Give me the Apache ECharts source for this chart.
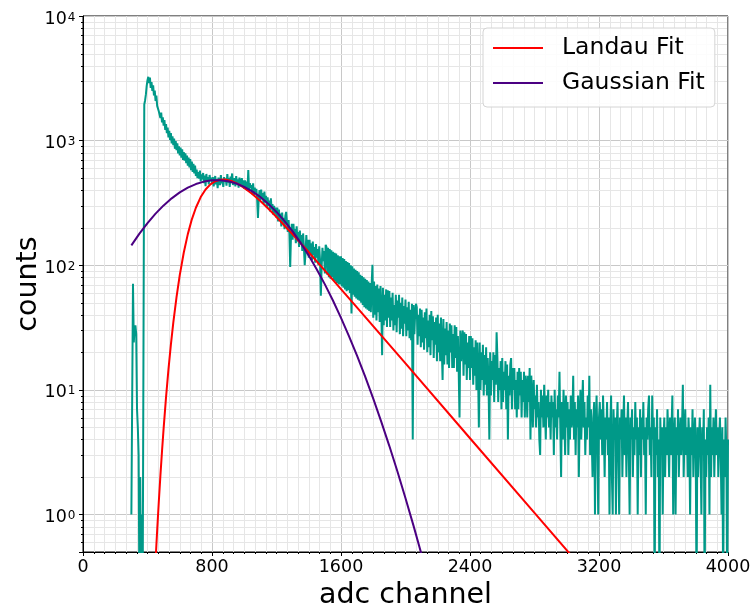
<!DOCTYPE html>
<html>
<head>
<meta charset="utf-8">
<script src="https://cdn.jsdelivr.net/npm/echarts@6/dist/echarts.min.js"></script>
<style>
  html, body { margin: 0; padding: 0; background: #fff; }
  #chart { width: 753px; height: 612px; }
</style>
</head>
<body>
<div id="chart"></div>
<script>
// ADC spectrum: counts per channel, sampled every 5 channels from channel 300
const channelStart = 300;
const channelStep = 5;
const counts = [
  1, 1, 71, 24, 31, 33, 28, 7, 5, 3, 0, 2, 0, 1, 0, 0, 1950, 2100, 2350, 2750,
  3050, 3250, 2900, 3200, 2650, 2950, 2500, 2780, 2300, 2520, 2080, 2300, 1900, 1960, 1720, 1780, 1520, 1680, 1400, 1540,
  1320, 1460, 1220, 1360, 1150, 1270, 1060, 1200, 1010, 1150, 950, 1080, 920, 1040, 860, 990, 840, 950, 790, 900,
  760, 880, 730, 850, 700, 810, 690, 790, 660, 760, 630, 730, 610, 710, 580, 680, 560, 650, 545, 630,
  520, 585, 500, 560, 495, 575, 470, 535, 490, 550, 455, 525, 430, 540, 470, 510, 445, 530, 480, 505,
  450, 510, 430, 470, 520, 445, 490, 415, 505, 470, 440, 530, 455, 480, 425, 510, 470, 495, 435, 540,
  460, 500, 425, 515, 480, 545, 440, 470, 500, 430, 520, 455, 490, 420, 505, 465, 440, 500, 425, 480,
  410, 480, 420, 470, 395, 580, 390, 455, 420, 440, 370, 455, 360, 420, 385, 410, 340, 240, 350, 400,
  335, 405, 340, 380, 310, 390, 320, 360, 290, 350, 300, 330, 270, 345, 280, 310, 255, 300, 260, 290,
  240, 290, 225, 280, 230, 260, 205, 265, 215, 240, 195, 250, 268, 220, 185, 230, 180, 97, 175, 215,
  160, 215, 170, 195, 150, 205, 155, 185, 140, 190, 150, 175, 130, 180, 140, 100, 125, 175, 130, 160,
  115, 160, 125, 150, 110, 155, 120, 140, 105, 148, 115, 135, 100, 142, 110, 57, 98, 138, 108, 130,
  86, 146, 140, 84, 138, 80, 135, 78, 132, 80, 128, 76, 126, 74, 124, 72, 120, 70, 118, 70,
  118, 68, 114, 66, 112, 64, 108, 62, 106, 63, 104, 60, 100, 41, 98, 58, 94, 56, 92, 54,
  90, 53, 88, 52, 84, 50, 82, 48, 80, 46, 78, 45, 76, 44, 74, 43, 72, 42, 70, 101,
  38, 74, 40, 68, 36, 70, 42, 65, 35, 68, 44, 19, 66, 33, 58, 36, 64, 32, 63, 38,
  62, 32, 55, 36, 60, 30, 48, 33, 58, 29, 52, 38, 58, 28, 50, 31, 55, 27, 47, 34,
  53, 27, 46, 30, 51, 26, 44, 25, 49, 4, 48, 28, 41, 49, 46, 23, 40, 27, 45, 22,
  44, 24, 38, 21, 42, 26, 45, 20, 36, 22, 40, 19, 43, 25, 39, 18, 35, 23, 38, 17,
  40, 20, 34, 17, 38, 22, 12, 37, 16, 31, 19, 35, 16, 30, 15, 34, 20, 33, 15, 28,
  15, 33, 18, 32, 14, 27, 14, 6, 30, 17, 25, 30, 13, 29, 16, 28, 12, 24, 15, 27,
  12, 27, 15, 26, 11, 22, 13, 25, 10, 24, 14, 5, 24, 10, 20, 12, 23, 9, 19, 11,
  22, 9, 18, 11, 4, 20, 9, 17, 12, 20, 8, 19, 11, 29, 18, 8, 15, 10, 17, 7,
  18, 8, 14, 10, 17, 7, 16, 4, 13, 9, 16, 18, 7, 15, 10, 15, 7, 12, 6, 14,
  7, 15, 9, 14, 6, 12, 8, 14, 6, 13, 11, 6, 13, 8, 15, 4, 13, 9, 5, 12,
  7, 9, 5, 11, 6, 8, 4, 3, 10, 6, 9, 5, 11, 7, 4, 9, 6, 10, 5, 8,
  4, 9, 6, 8, 3, 10, 5, 7, 4, 9, 6, 14, 5, 2, 8, 4, 10, 6, 3, 9,
  5, 8, 3, 7, 4, 9, 5, 6, 13, 4, 8, 3, 7, 5, 9, 2, 6, 10, 4, 7,
  12, 5, 8, 3, 6, 4, 9, 5, 13, 3, 7, 4, 2, 6, 8, 1, 5, 9, 4, 1,
  6, 8, 4, 7, 3, 9, 5, 2, 6, 4, 8, 3, 6, 1, 5, 9, 2, 1, 7, 4,
  6, 1, 5, 8, 3, 1, 6, 4, 7, 2, 5, 9, 3, 6, 2, 5, 8, 3, 1, 6,
  4, 7, 2, 5, 3, 8, 4, 6, 1, 5, 3, 7, 2, 6, 4, 8, 3, 5, 1, 6,
  4, 7, 9, 3, 5, 2, 9, 4, 6, 0, 5, 3, 7, 2, 4, 0, 6, 3, 5, 1,
  4, 6, 2, 5, 3, 7, 4, 2, 6, 3, 5, 9, 1, 4, 6, 1, 5, 3, 7, 2,
  4, 6, 3, 5, 11, 2, 4, 7, 3, 5, 2, 6, 4, 1, 5, 3, 7, 2, 4, 6,
  3, 0, 5, 2, 4, 6, 3, 1, 5, 3, 7, 0, 4, 2, 5, 3, 6, 1, 11, 2,
  5, 3, 6, 2, 4, 7, 3, 5, 2, 4, 6, 3, 1, 5, 0, 4, 2, 6, 3, 0,
  4
];

// Landau fit curve
const landauChannels = [445, 450, 455, 460, 470, 480, 490, 500, 515, 530, 545, 560, 580, 600, 625, 650, 675, 700, 730,
  760, 790, 820, 850, 880, 920, 960, 1000, 1050, 1100, 1150, 1200, 1300, 1400, 1500, 1700, 2000, 2400, 2800, 3100];
const landauCounts = [0.314, 0.423, 0.566, 0.745, 1.26, 2.05, 3.22, 4.91, 8.75, 14.6, 23.1, 34.6, 55.5, 83.2, 126.5, 177.7, 233.6, 289.4, 352.3,
  405.4, 445.6, 472.2, 485.3, 486.9, 474.2, 449.8, 417.8, 373.1, 327.4, 283.8, 243.9, 177.3, 127.2, 90.6, 45.7, 16.3, 4.09, 1.03, 0.366];

// Gaussian fit curve
const gaussChannels = [300, 350, 400, 450, 500, 550, 600, 650, 700, 750, 800, 850, 900, 950, 1000, 1050, 1100, 1150, 1200,
  1250, 1300, 1350, 1400, 1450, 1500, 1550, 1600, 1650, 1700, 1750, 1800, 1850, 1900, 1950, 2000, 2050, 2100];
const gaussCounts = [144.3, 179.3, 218, 259.3, 302, 344.3, 384, 419.4, 448.3, 469, 480.1, 481.2, 472, 453.2, 425.7, 391.6, 352.5, 310.6, 267.8,
  226.1, 186.8, 151, 119.5, 92.6, 70.2, 52.1, 37.8, 26.9, 18.7, 12.75, 8.5, 5.54, 3.54, 2.21, 1.35, 0.81, 0.475];

// Log-axis decades that carry labels, and the minor grid values between them
const yDecades = [1, 10, 100, 1000, 10000];
const yMinor = [0.6, 0.7, 0.8, 0.9, 2, 3, 4, 5, 6, 7, 8, 9, 20, 30, 40, 50, 60, 70, 80, 90,
  200, 300, 400, 500, 600, 700, 800, 900, 2000, 3000, 4000, 5000, 6000, 7000, 8000, 9000];

// Empty bins cannot sit on a log axis; park them below the visible range
const EMPTY_BIN = 0.2;

const spectrum = counts.map((c, i) => [channelStart + i * channelStep, c > 0 ? c : EMPTY_BIN]);
const landau = landauChannels.map((x, i) => [x, landauCounts[i]]);
const gauss = gaussChannels.map((x, i) => [x, gaussCounts[i]]);

const font = 'DejaVu Sans';
const chart = echarts.init(document.getElementById('chart'), null, { renderer: 'canvas' });

chart.setOption({
  animation: false,
  backgroundColor: '#ffffff',
  textStyle: { fontFamily: font, color: '#000' },
  grid: {
    left: 83, right: 25, top: 16, bottom: 60,
    containLabel: false,
    outerBoundsMode: 'none',
    show: true, borderColor: '#000', borderWidth: 1, backgroundColor: 'transparent'
  },
  legend: {
    data: ['Landau Fit', 'Gaussian Fit'],
    orient: 'vertical',
    left: 483, top: 28,
    padding: [5, 10, 9, 10],
    icon: 'rect',
    itemWidth: 50, itemHeight: 2, itemGap: 5,
    backgroundColor: 'rgba(255,255,255,0.85)',
    borderColor: '#d4d4d4', borderWidth: 1, borderRadius: 4,
    textStyle: { fontFamily: font, fontSize: 23.5, color: '#000', lineHeight: 30, padding: [0, 0, 0, 14] }
  },
  xAxis: {
    type: 'value',
    min: 0, max: 4000, interval: 800,
    name: 'adc channel', nameLocation: 'middle', nameGap: 27,
    nameTextStyle: { fontFamily: font, fontSize: 28.5, color: '#000' },
    axisLine: { show: true, onZero: false, lineStyle: { color: '#000', width: 1 } },
    axisTick: { show: true, inside: false, length: 4, lineStyle: { color: '#000' } },
    minorTick: { show: true, splitNumber: 12, length: 2, lineStyle: { color: '#000' } },
    axisLabel: { fontFamily: font, fontSize: 17.5, color: '#000', margin: 6, formatter: v => String(v) },
    splitLine: { show: true, lineStyle: { color: '#c8c8c8', width: 1 } },
    minorSplitLine: { show: true, lineStyle: { color: '#e6e6e6', width: 1 } }
  },
  yAxis: {
    type: 'log', logBase: 10,
    min: 0.5, max: 10000,
    name: 'counts', nameLocation: 'middle', nameGap: 40,
    nameMoveOverlap: false,
    nameTextStyle: { fontFamily: font, fontSize: 28.5, color: '#000' },
    axisLine: { show: true, lineStyle: { color: '#000', width: 1 } },
    axisTick: { show: true, inside: false, length: 4, lineStyle: { color: '#000' } },
    axisLabel: {
      margin: 7.5,
      formatter: function (v) {
        if (!yDecades.some(d => Math.abs(d - v) / d < 1e-6)) return '';
        const k = Math.round(Math.log10(v));
        return '{b|10}{s|' + k + '}';
      },
      rich: {
        b: { fontFamily: font, fontSize: 17.5, color: '#000', lineHeight: 20, padding: [6, 0, 0, 0] },
        s: { fontFamily: font, fontSize: 12, color: '#000', lineHeight: 12, padding: [3, 0, 0, 1] }
      }
    },
    splitLine: { show: true, lineStyle: { color: '#c8c8c8', width: 1 } }
  },
  series: [
    {
      // minor grid lines and ticks at 2..9 x 10^k on the log axis
      type: 'custom',
      silent: true,
      z: 1,
      clip: false,
      data: yMinor.map(v => [0, v]),
      encode: { x: 0, y: 1 },
      renderItem: function (params, api) {
        const cs = params.coordSys;
        const y = Math.round(api.coord([0, api.value(1)])[1]) + 0.5;
        return {
          type: 'group',
          children: [
            { type: 'line', shape: { x1: cs.x + 1, y1: y, x2: cs.x + cs.width - 1, y2: y },
              style: { stroke: '#e6e6e6', lineWidth: 1 } },
            { type: 'line', shape: { x1: cs.x - 2, y1: y, x2: cs.x, y2: y },
              style: { stroke: '#000', lineWidth: 1 } }
          ]
        };
      }
    },
    {
      name: 'spectrum',
      type: 'line',
      data: spectrum,
      symbol: 'none',
      clip: true,
      lineStyle: { color: '#009988', width: 2 },
      itemStyle: { color: '#009988' },
      z: 2
    },
    {
      name: 'Landau Fit',
      type: 'line',
      data: landau,
      symbol: 'none',
      clip: true,
      lineStyle: { color: '#ff0000', width: 2 },
      itemStyle: { color: '#ff0000' },
      z: 3
    },
    {
      name: 'Gaussian Fit',
      type: 'line',
      data: gauss,
      symbol: 'none',
      clip: true,
      lineStyle: { color: '#4b0082', width: 2 },
      itemStyle: { color: '#4b0082' },
      z: 4
    }
  ]
});
</script>
</body>
</html>
